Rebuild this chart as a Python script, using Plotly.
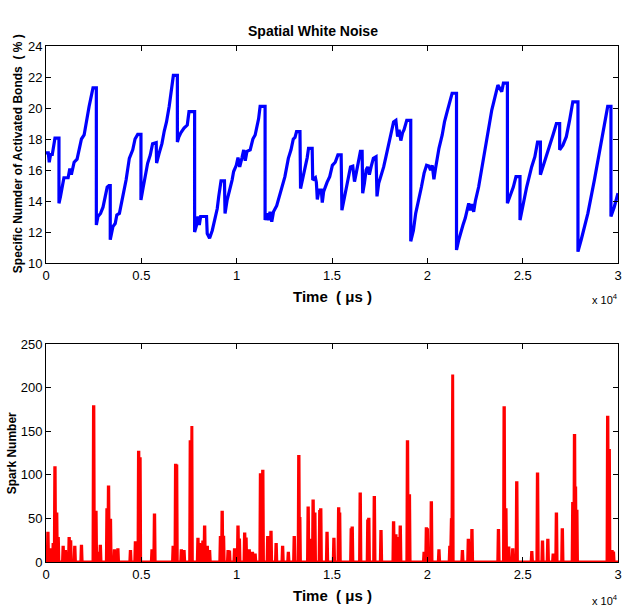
import plotly.graph_objects as go

# ---------------- data ----------------
# Top panel: specific number of activated bonds (%) vs time (us)
bond_time = [0, 120, 170, 240, 330, 380, 470, 680, 680, 760, 870, 940, 1160, 1250, 1330, 1400,
             1475, 1630, 1770, 1860, 2000, 2120, 2260, 2380, 2465, 2640, 2640, 2725, 2860, 2990,
             3110, 3210, 3300, 3370, 3370, 3510, 3630, 3715, 3850, 4030, 4200, 4370, 4550, 4670,
             4810, 4980, 4980, 5070, 5210, 5330, 5470, 5590, 5780, 5800, 5940, 6080, 6200, 6320,
             6460, 6580, 6680, 6890, 6890, 6960, 7070, 7240, 7410, 7500, 7795, 7795, 7900, 7970,
             8040, 8110, 8420, 8455, 8580, 8720, 8840, 8980, 9060, 9180, 9360, 9390, 9500, 9640,
             9760, 9840, 9980, 10070, 10160, 10280, 10370, 10450, 10540, 10710, 10850, 10970,
             11060, 11150, 11230, 11490, 11490, 11580, 11670, 11750, 11840, 11930, 12100, 12270,
             12410, 12530, 12710, 12850, 12970, 13060, 13140, 13320, 13350, 13450, 13580, 13700,
             13770, 13960, 13990, 14130, 14180, 14230, 14320, 14440, 14490, 14560, 14740, 14880,
             15020, 15170, 15310, 15480, 15520, 15620, 15740, 15870, 15970, 16090, 16180, 16270,
             16390, 16490, 16580, 16610, 16700, 16790, 16870, 16960, 17050, 17170, 17310, 17360,
             17450, 17570, 17710, 17830, 17970, 18090, 18230, 18350, 18440, 18520, 18610, 18700,
             18780, 18920, 19130, 19130, 19270, 19390, 19560, 19690, 19830, 19960, 20080, 20170,
             20260, 20345, 20430, 20520, 20610, 20780, 20900, 21040, 21180, 21300, 21530, 21530,
             21650, 21730, 21870, 21990, 22080, 22170, 22260, 22340, 22430, 22520, 22690, 23030,
             23380, 23700, 23900, 23990, 24200, 24200, 24340, 24510, 24650, 24860, 24860, 25040,
             25210, 25470, 25640, 25780, 25930, 25930, 26070, 26250, 26420, 26590, 26770, 26940,
             26940, 27110, 27290, 27460, 27630, 27900, 27900, 28070, 28420, 28760, 29110, 29460,
             29630, 29630, 29800, 30000]
bond_pct = [17.1, 17.1, 16.5, 17.0, 17.0, 17.5, 18.05, 18.05, 13.85, 14.3, 15.1, 15.5, 15.5, 16.1, 15.7, 16.2,
            16.5, 16.7, 17.5, 18.0, 18.26, 19.2, 20.1, 20.8, 21.3, 21.3, 12.45, 13.0, 13.2, 13.6,
            14.2, 14.9, 15.0, 15.0, 11.5, 12.35, 12.55, 13.1, 13.2, 14.3, 15.35, 16.75, 17.3, 18.0,
            18.3, 18.3, 14.06, 14.7, 15.68, 16.43, 16.97, 17.7, 17.77, 16.45, 17.1, 17.7, 18.5, 19.1,
            20.1, 21.1, 22.1, 22.1, 17.8, 18.1, 18.4, 18.7, 18.9, 19.76, 19.76, 12.0, 12.45, 13.0,
            12.45, 13.0, 13.0, 11.9, 11.6, 12.1, 12.8, 13.5, 14.3, 15.3, 15.3, 13.2, 14.06, 14.7,
            15.35, 15.9, 16.3, 16.8, 16.2, 16.8, 17.3, 16.6, 17.2, 17.3, 18.0, 18.26,
            18.8, 19.3, 20.1, 20.1, 12.77, 13.2, 12.77, 13.3, 12.67, 13.3, 13.7, 14.4,
            14.9, 15.57, 16.75, 17.3, 18.0, 18.1, 18.47, 18.47, 14.8, 15.35, 16.2, 16.8,
            17.4, 17.4, 15.35, 15.5, 15.2, 14.1, 14.7, 14.7, 13.9, 14.6, 15.2, 15.57,
            16.3, 16.5, 16.97, 16.97, 13.4, 14.06, 14.7, 15.57, 16.2, 16.25, 15.25, 15.8,
            16.65, 17.2, 17.2, 14.5, 15.14, 16.0, 16.2, 15.7, 16.2, 16.76, 16.86, 14.3,
            15.14, 15.57, 16.2, 16.86, 17.7, 18.4, 19.1, 19.2, 18.15, 18.6, 17.9, 18.4,
            18.6, 19.2, 19.2, 11.4, 12.1, 13.2, 14.06, 14.9, 15.8, 16.3, 16.25, 16.0,
            16.3, 15.4, 16.1, 16.86, 17.4, 18.26, 19.1, 19.76, 20.5, 20.95, 20.95, 10.84,
            11.5, 11.9, 12.45, 12.9, 13.4, 13.85, 13.4, 13.8, 13.3, 14.0, 14.9, 17.5,
            19.87, 21.48, 21.05, 21.6, 21.6, 13.85, 14.3, 14.9, 15.57, 15.57, 12.77, 13.85,
            14.9, 16.2, 16.86, 17.8, 17.8, 15.7, 16.2, 16.86, 17.6, 18.26, 19.0, 19.0,
            17.3, 17.6, 18.15, 19.2, 20.4, 20.4, 10.73, 11.5, 13.2, 15.35, 17.7, 20.1,
            20.1, 13.0, 13.6, 14.5]

# Bottom panel: spark number bursts (time in us, spark count)
spark_time = [100, 260, 380, 470, 560, 640, 900, 1020, 1215, 1290, 1510, 1860, 2500, 2620, 2760,
              2850, 3200, 3280, 3380, 3590, 3770, 4430, 4690, 4860, 4930, 5560, 5690, 6670, 6800,
              6850, 7100, 7240, 7570, 7640, 7970, 8050, 8230, 8320, 8460, 8580, 9150, 9240, 9310,
              9550, 9620, 9890, 10070, 10140, 10420, 10490, 10660, 10830, 10970, 11250, 11370,
              11630, 11800, 12070, 12410, 12710, 13020, 13260, 13310, 13750, 13920, 14010, 14100,
              14360, 14410, 14740, 15100, 15350, 15400, 16010, 16060, 16480, 16880, 16930, 17220,
              17570, 18230, 18350, 18440, 18580, 18960, 19060, 19830, 19950, 20000, 20210, 20610,
              21180, 21250, 21320, 21840, 22150, 22340, 23730, 24030, 24120, 24270, 24480, 24690,
              25480, 25780, 26040, 26320, 26600, 26770, 27080, 27630, 27720, 27770, 27840, 29460,
              29540, 29690, 29760]
spark_count = [33, 14, 20, 108, 55, 27, 17, 12, 27, 25, 17, 18, 178, 57, 10,
               18, 60, 86, 48, 13, 14, 12, 22, 126, 120, 13, 54, 17, 111,
               110, 13, 12, 138, 156, 26, 20, 23, 40, 17, 12, 28, 57, 30,
               12, 13, 14, 40, 27, 32, 28, 13, 10, 8, 100, 104,
               28, 34, 20, 17, 10, 28, 121, 50, 62, 25, 70, 55,
               58, 60, 33, 26, 61, 55, 37, 39, 78, 47, 49, 74,
               35, 45, 30, 27, 40, 138, 76, 10, 38, 37, 68, 13,
               17, 50, 215, 12, 25, 36, 36, 177, 60, 16, 14, 91,
               11, 101, 23, 25, 8, 55, 37, 67, 145, 85, 60, 166,
               128, 12, 12]

x_tickvals = [0, 5000, 10000, 15000, 20000, 25000, 30000]
x_ticktext = ["0", "0.5", "1", "1.5", "2", "2.5", "3"]
top_yticks = [10, 12, 14, 16, 18, 20, 22, 24]
bot_yticks = [0, 50, 100, 150, 200, 250]

# build the spark trace (baseline zero with spikes)
half_w = 35
sx, sy = [0], [0]
for t, n in zip(spark_time, spark_count):
    sx += [t - half_w, t - 10, t + 10, t + half_w]
    sy += [0, n, n, 0]
sx.append(30000)
sy.append(0)

# ---------------- figure ----------------
W, H = 626, 608
ML, MR, MT, MB = 46, 4, 46, 46
PH = H - MT - MB

def py(p):  # pixel y -> paper y
    return (H - MB - p) / PH

def px(p):  # pixel x -> paper x
    return (p - ML) / (W - ML - MR)

FONT = "Liberation Sans, Arial, Helvetica, sans-serif"

fig = go.Figure()
fig.add_trace(go.Scatter(x=bond_time, y=bond_pct, mode="lines",
                         line=dict(color="#0000ff", width=3.2), xaxis="x", yaxis="y",
                         showlegend=False))
fig.add_trace(go.Scatter(x=sx, y=sy, mode="lines",
                         line=dict(color="#ff0000", width=3), xaxis="x2", yaxis="y2",
                         showlegend=False))

axis_common = dict(showline=True, linecolor="black", linewidth=1, mirror="ticks",
                   ticks="inside", ticklen=5, tickcolor="black", tickwidth=1,
                   showgrid=False, zeroline=False,
                   tickfont=dict(family=FONT, size=13, color="black"))

fig.update_layout(
    width=W, height=H,
    margin=dict(l=ML, r=MR, t=MT, b=MB),
    paper_bgcolor="white", plot_bgcolor="white",
    xaxis=dict(domain=[0, 1], range=[0, 30000], tickvals=x_tickvals, ticktext=x_ticktext,
               anchor="y", **axis_common),
    yaxis=dict(domain=[py(263), 1], range=[10, 24], tickvals=top_yticks, anchor="x",
               **axis_common),
    xaxis2=dict(domain=[0, 1], range=[0, 30000], tickvals=x_tickvals, ticktext=x_ticktext,
                anchor="y2", **axis_common),
    yaxis2=dict(domain=[0, py(344)], range=[0, 250], tickvals=bot_yticks, anchor="x2",
                **axis_common),
    title=dict(text="<b>Spatial White Noise</b>", x=px(334), xanchor="center",
               y=1 - 31 / H, yanchor="middle", yref="container",
               font=dict(family=FONT, size=14, color="black")),
)

ann = []
bold = dict(family=FONT, size=15, color="black")
ann.append(dict(text="<b>Time  ( μs )</b>", x=px(334), y=py(296), xref="paper", yref="paper",
                showarrow=False, xanchor="center", yanchor="middle", font=bold))
ann.append(dict(text="<b>Time  ( μs )</b>", x=px(334), y=py(595), xref="paper", yref="paper",
                showarrow=False, xanchor="center", yanchor="middle", font=bold))
ann.append(dict(text="<b>Specific Numder of Activated Bonds  ( % )</b>", x=px(18), y=py(154),
                xref="paper", yref="paper", showarrow=False, textangle=-90,
                xanchor="center", yanchor="middle",
                font=dict(family=FONT, size=12, color="black")))
ann.append(dict(text="<b>Spark Number</b>", x=px(12), y=py(453),
                xref="paper", yref="paper", showarrow=False, textangle=-90,
                xanchor="center", yanchor="middle",
                font=dict(family=FONT, size=12, color="black")))
for yy in (299, 600):
    ann.append(dict(text="x 10<sup>4</sup>", x=px(624), y=py(yy), xref="paper", yref="paper",
                    showarrow=False, xanchor="right", yanchor="middle",
                    font=dict(family=FONT, size=11, color="black")))
fig.update_layout(annotations=ann)

fig.write_html("out.html")
